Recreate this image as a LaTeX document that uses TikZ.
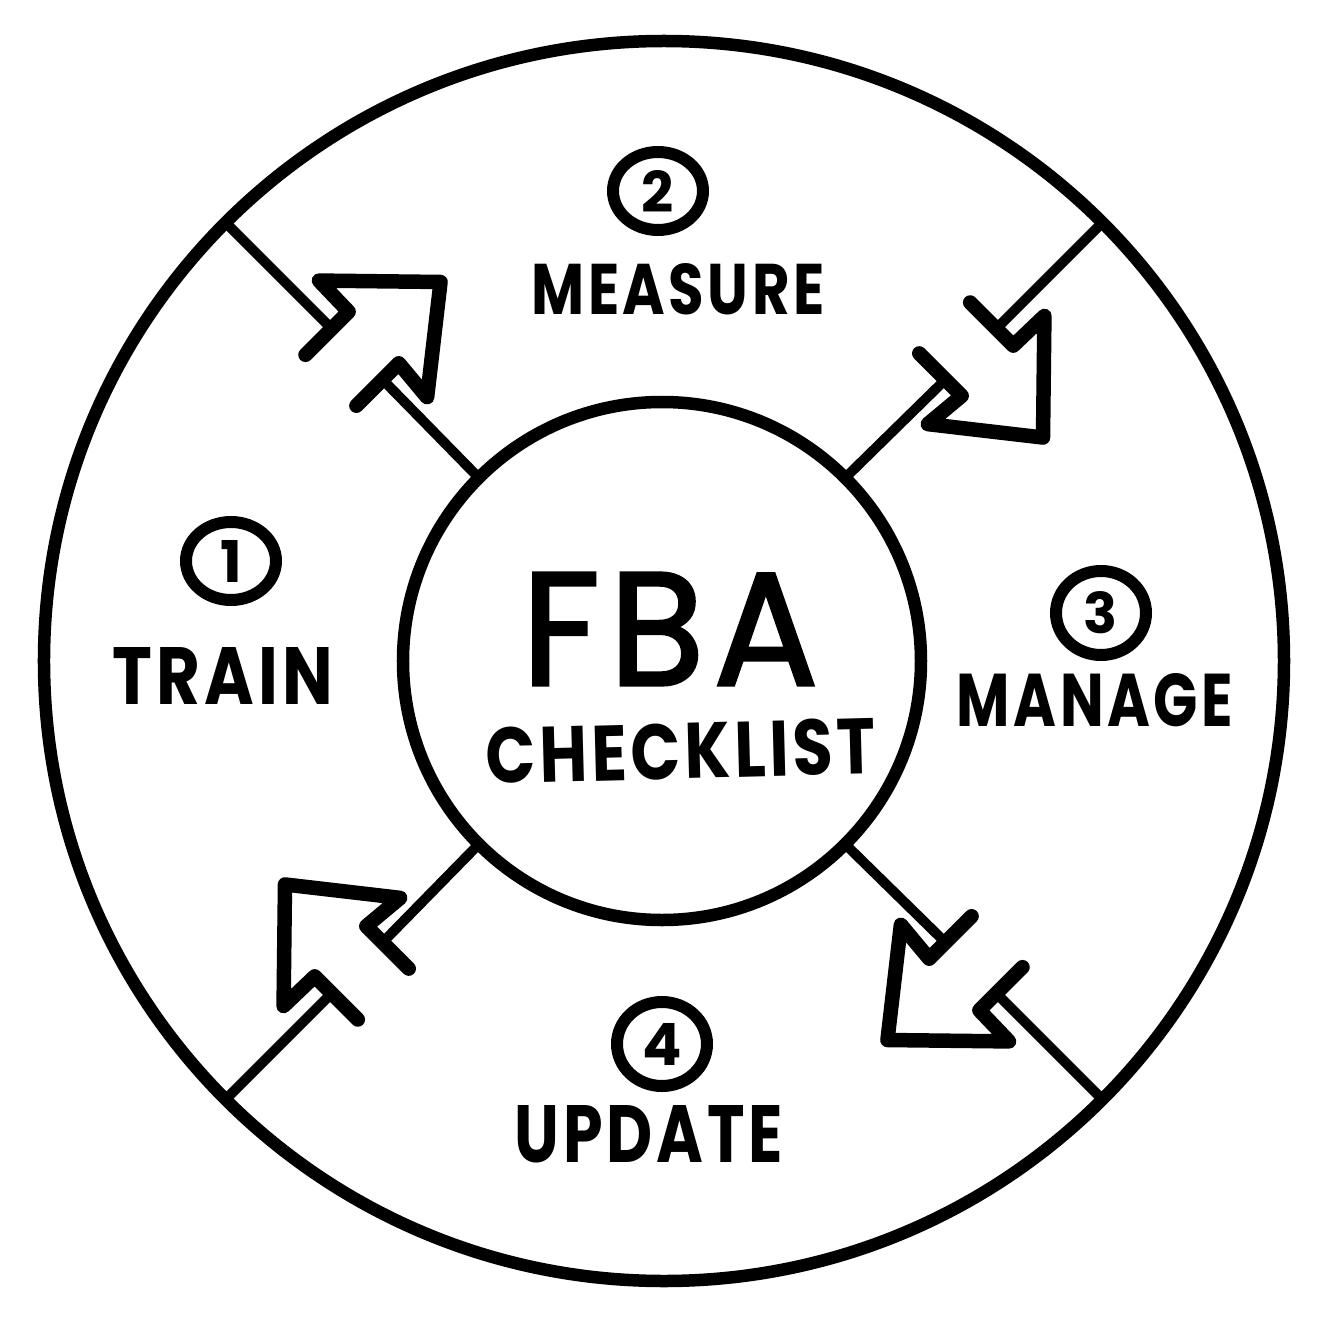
\documentclass[tikz,border=0pt]{standalone}
\usepackage{fontspec}
\usetikzlibrary{shapes.geometric}
\newfontfamily\handfont{Poppins}[LetterSpace=6]
\newfontfamily\handmed{Poppins}[LetterSpace=6, FakeBold=2]
\newcommand{\fitto}[3]{\resizebox{#1}{#2}{\handfont\bfseries #3}}
\newcommand{\fitmed}[3]{\resizebox{#1}{#2}{\handmed #3}}
\newcommand{\digitfit}[1]{\resizebox{!}{42pt}{\handfont\bfseries #1}}
\begin{document}
\begin{tikzpicture}[x=1pt,y=1pt,
  ring/.style={circle, draw, line width=12.5pt, inner sep=0pt, outer sep=0pt},
  diag/.style={line width=10pt, line cap=round},
  blockarrow/.style={line width=14.5pt, line join=round, line cap=round},
  numring/.style={ellipse, draw, line width=12pt, minimum width=90pt, minimum height=78pt, inner sep=0pt},
  lbl/.style={inner sep=0pt, anchor=center}]
\fill[white] (-664,-659) rectangle (666,661);
\useasboundingbox (-664,-659) rectangle (666,661);
\node[ring, minimum size=1240pt] (outer) at (0,0) {};
\node[ring, minimum size=518pt] (inner) at (-2,0) {};
\foreach \a/\n in {135/ul,45/ur,315/lr,225/ll} {
  \begin{scope}[x={(\a:1pt)}, y={(\a-90:1pt)}]
    \coordinate (\n-o) at (470,0);
    \coordinate (\n-i) at (398,0);
    \draw[blockarrow] (470,-37) -- (470,24) -- (513,25) -- (426,110) -- (354,19) -- (398,23) -- (398,-37);
  \end{scope}
  \draw[diag] (outer.\a) -- (\n-o);
  \draw[diag] (\n-i) -- (inner.\a);
}
\node[lbl] (fba) at (6,32) {\fitmed{296pt}{112pt}{FBA}};
\node[lbl, rotate=1.5] (check) at (17,-90) {\fitto{390pt}{56pt}{CHECKLIST}};
\node[numring] (n1) at (-433,100) {\digitfit{1}};
\node[numring] (n2) at (-6,470) {\digitfit{2}};
\node[numring, minimum height=84pt] (n3) at (437,48) {\digitfit{3}};
\node[numring, minimum height=84pt] (n4) at (-2,-383) {\digitfit{4}};
\node[lbl] (train) at (-441,-15) {\fitto{220pt}{57pt}{TRAIN}};
\node[lbl] (measure) at (14,372) {\fitto{293pt}{51pt}{MEASURE}};
\node[lbl] (manage) at (431,-39) {\fitto{276pt}{53pt}{MANAGE}};
\node[lbl] (update) at (-15,-473) {\fitto{268pt}{57pt}{UPDATE}};
\end{tikzpicture}
\end{document}
